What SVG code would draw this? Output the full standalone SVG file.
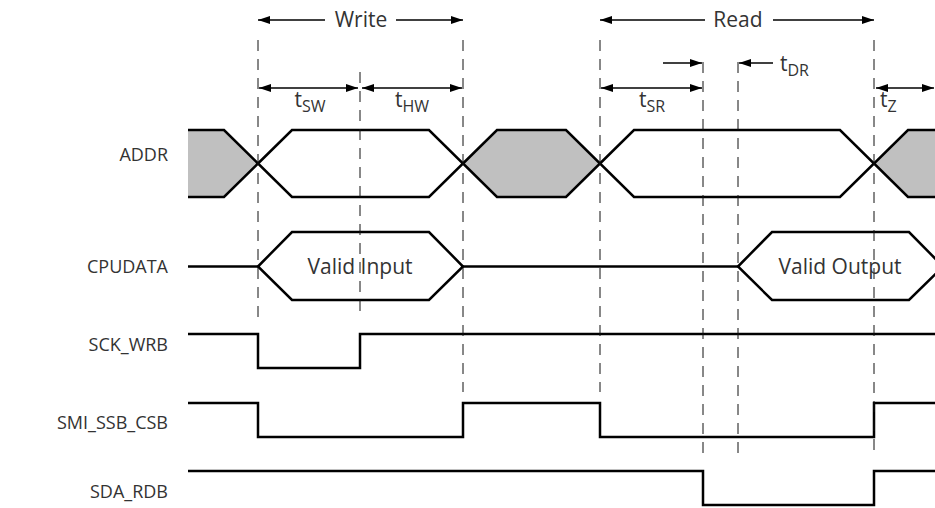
<svg xmlns="http://www.w3.org/2000/svg" width="935" height="508" viewBox="0 0 935 508">
  <defs>
    <marker id="ah" viewBox="0 0 12 8" refX="12" refY="4" markerWidth="12" markerHeight="8" markerUnits="userSpaceOnUse" orient="auto-start-reverse">
      <path d="M0,0 L12,4 L0,8 Z" fill="#000"/>
    </marker>
    <style>
      .lbl { font-family: "Open Sans", "DejaVu Sans", sans-serif; font-size: 18px; fill: #333; }
      .txt { font-family: "Open Sans", "DejaVu Sans", sans-serif; font-size: 21px; fill: #333; }
      .sub { font-size: 16px; }
      .sig { fill: none; stroke: #000; stroke-width: 2.5; stroke-linejoin: miter; }
      .bus { stroke: #000; stroke-width: 2.5; stroke-linejoin: miter; }
      .grey { fill: #c0c0c0; }
      .white { fill: #fff; }
      .dash { stroke: #111; stroke-width: 1; stroke-dasharray: 11 8; fill: none; }
      .dim2 { stroke: #000; stroke-width: 1.3; fill: none; marker-start: url(#ah); marker-end: url(#ah); }
      .dim1 { stroke: #000; stroke-width: 1.3; fill: none; marker-end: url(#ah); }
    </style>
  </defs>

  <!-- signal names -->
  <g id="labels" class="lbl" text-anchor="end">
    <text x="168" y="161">ADDR</text>
    <text x="168" y="273">CPUDATA</text>
    <text x="168" y="351">SCK_WRB</text>
    <text x="168" y="429">SMI_SSB_CSB</text>
    <text x="168" y="498">SDA_RDB</text>
  </g>

  <!-- ADDR bus -->
  <g id="addr">
    <polygon class="grey" points="188,130 224,130 258,163.5 224,197 188,197"/>
    <polyline class="sig" points="188,130 224,130 258,163.5 224,197 188,197"/>
    <polygon class="bus white" points="258,163.5 292,130 429,130 463,163.5 429,197 292,197"/>
    <polygon class="bus grey" points="463,163.5 497,130 566,130 600,163.5 566,197 497,197"/>
    <polygon class="bus white" points="600,163.5 634,130 840,130 874,163.5 840,197 634,197"/>
    <polygon class="grey" points="874,163.5 908,130 936,130 936,197 908,197"/>
    <polyline class="sig" points="936,130 908,130 874,163.5 908,197 936,197"/>
  </g>

  <!-- CPUDATA bus -->
  <g id="cpudata">
    <line class="bus" x1="188" y1="266.5" x2="258" y2="266.5"/>
    <polygon class="bus white" points="258,266.5 292,232 429,232 463,266.5 429,300 292,300"/>
    <line class="bus" x1="463" y1="266.5" x2="738" y2="266.5"/>
    <polygon class="bus white" points="738,266.5 772,232 909,232 943,266.5 909,300 772,300"/>
  </g>

  <!-- SCK_WRB -->
  <g id="sck_wrb">
    <polyline class="sig" points="188,334 258,334 258,368 360,368 360,334 936,334"/>
  </g>

  <!-- SMI_SSB_CSB -->
  <g id="smi_ssb_csb">
    <polyline class="sig" points="188,403 258,403 258,437 463,437 463,403 600,403 600,437 874,437 874,403 936,403"/>
  </g>

  <!-- SDA_RDB -->
  <g id="sda_rdb">
    <polyline class="sig" points="188,471 703,471 703,505 874,505 874,471 936,471"/>
  </g>

  <!-- timing reference lines -->
  <g id="guides">
    <line class="dash" x1="258" y1="40" x2="258" y2="318"/>
    <line class="dash" x1="360" y1="72" x2="360" y2="318"/>
    <line class="dash" x1="463" y1="40" x2="463" y2="392"/>
    <line class="dash" x1="600" y1="40" x2="600" y2="392"/>
    <line class="dash" x1="703" y1="62" x2="703" y2="455"/>
    <line class="dash" x1="738" y1="62" x2="738" y2="455"/>
    <line class="dash" x1="874" y1="40" x2="874" y2="455"/>
  </g>

  <!-- phase and timing dimensions -->
  <g id="connectors">
    <line class="dim1" x1="325" y1="20" x2="258" y2="20"/>
    <line class="dim1" x1="396" y1="20" x2="463" y2="20"/>
    <line class="dim1" x1="705" y1="20" x2="600" y2="20"/>
    <line class="dim1" x1="773" y1="20" x2="874" y2="20"/>
    <line class="dim2" x1="259" y1="88" x2="358" y2="88"/>
    <line class="dim2" x1="362" y1="88" x2="462" y2="88"/>
    <line class="dim2" x1="601" y1="88" x2="702" y2="88"/>
    <line class="dim2" x1="876" y1="88" x2="934" y2="88"/>
    <line class="dim1" x1="663" y1="63" x2="702" y2="63"/>
    <line class="dim1" x1="773" y1="63" x2="739" y2="63"/>
  </g>

  <!-- phase and timing names -->
  <g id="annotations" class="txt">
    <text x="361" y="27" text-anchor="middle">Write</text>
    <text x="738" y="27" text-anchor="middle">Read</text>
    <text x="310" y="107" text-anchor="middle">t<tspan class="sub" dy="5">SW</tspan></text>
    <text x="412" y="107" text-anchor="middle">t<tspan class="sub" dy="5">HW</tspan></text>
    <text x="652" y="107" text-anchor="middle">t<tspan class="sub" dy="5">SR</tspan></text>
    <text x="780" y="71">t<tspan class="sub" dy="5">DR</tspan></text>
    <text x="880" y="107">t<tspan class="sub" dy="5">Z</tspan></text>
    <text x="360" y="274" text-anchor="middle">Valid Input</text>
    <text x="840" y="274" text-anchor="middle">Valid Output</text>
  </g>
</svg>
